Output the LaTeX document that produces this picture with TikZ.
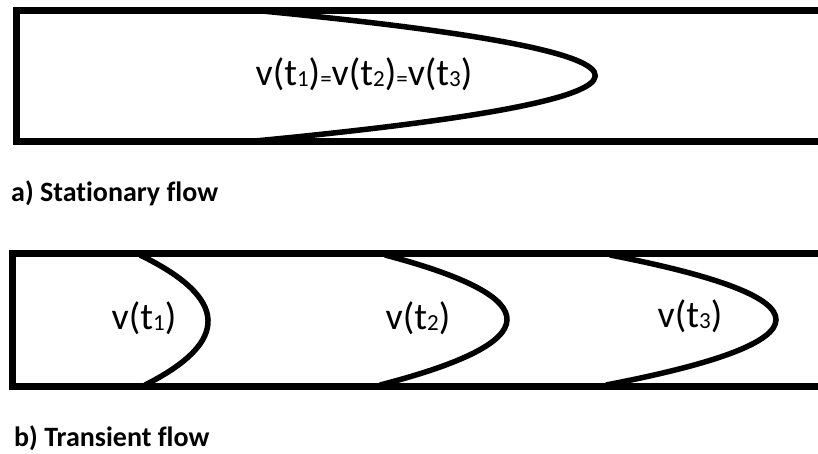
\documentclass[tikz,border=0pt]{standalone}
\usepackage{fontspec}
\setmainfont{Carlito}[Ligatures=NoCommon]
% small digits and signs set low, as in v(t_1)
\newcommand\lowsub[1]{\raisebox{-1pt}{\fontsize{23}{24}\selectfont #1}}
\begin{document}
\begin{tikzpicture}[x=1pt,y=-1pt,
  wall/.style={line width=7pt},
  profile/.style={line width=5.5pt},
  vel/.style={font=\fontsize{38}{42}\selectfont, inner sep=0pt},
  caption/.style={font=\fontsize{28}{32}\selectfont\bfseries, anchor=base west, inner sep=0pt}]
\useasboundingbox (0,0) rectangle (818,454);

% --- a) stationary flow: pipe and one velocity profile
\draw[wall] (830,10.5) -- (16,10.5) -- (16,142) -- (830,142);
\draw[profile] (262,11) .. controls (708.7,54.3) and (706.3,97.7) .. (255,141);
\node[vel] (va) at (364,74) {v(t\lowsub{1})\lowsub{=}v(t\lowsub{2})\lowsub{=}v(t\lowsub{3})};
\node[caption] (capa) at (11,202) {a) Stationary flow};

% --- b) transient flow: pipe and three profiles
\draw[wall] (830,253) -- (12.5,253) -- (12.5,386) -- (830,386);
\draw[profile] (140,255) .. controls (229,298.3) and (230.7,341.7) .. (145,385);
\draw[profile] (385,255) .. controls (549.3,298.3) and (547.7,341.7) .. (380,385);
\draw[profile] (610,255) .. controls (832.7,298.3) and (831.3,341.7) .. (606,385);
\node[vel] (v1) at (144,318) {v(t\lowsub{1})};
\node[vel] (v2) at (418,318) {v(t\lowsub{2})};
\node[vel] (v3) at (690,316) {v(t\lowsub{3})};
\node[caption] (capb) at (14,446) {b) Transient flow};
\end{tikzpicture}
\end{document}
